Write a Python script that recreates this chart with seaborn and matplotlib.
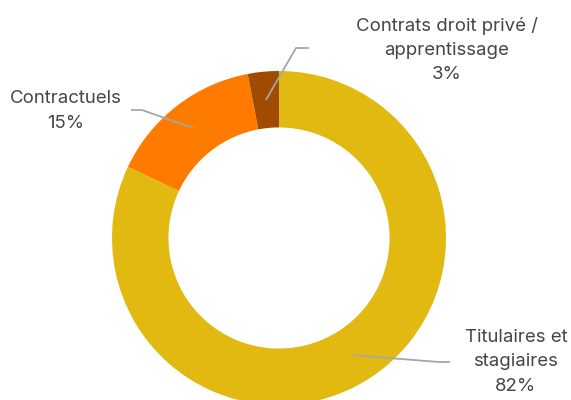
import numpy as np
import matplotlib
matplotlib.use("Agg")
import matplotlib.pyplot as plt
import seaborn as sns

# Répartition des effectifs par statut
categories = ["Titulaires et\nstagiaires", "Contractuels", "Contrats droit privé /\napprentissage"]
shares = [82, 15, 3]
colors = ["#E1B910", "#FF7B00", "#A04B00"]

sns.set_theme(style="white")
plt.rcParams["font.family"] = ["Inter", "DejaVu Sans"]
palette = sns.color_palette(colors)

W, H = 571, 400
fig = plt.figure(figsize=(W / 100, H / 100), dpi=100)
ax = fig.add_axes([0, 0, 1, 1])

# pixel geometry of the ring
cx, cy, R = 279, 238, 167
ring_width = 0.338


def px(x, y):
    """Figure pixel (from top-left) to data units."""
    return (x - cx) / R, (cy - y) / R


wedges, _ = ax.pie(shares, colors=palette, startangle=90, counterclock=False,
                   radius=1.0, wedgeprops=dict(width=ring_width, linewidth=0))
ax.set_aspect("auto")
ax.set_xlim(-cx / R, (W - cx) / R)
ax.set_ylim(-(H - cy) / R, cy / R)
ax.axis("off")

# label layout: elbow point, end of leader, text centre (pixels)
layout = [
    dict(elbow=(439, 362), end=(450, 362), text=(516, 362)),
    dict(elbow=(142, 110), end=(131, 110), text=(66, 111)),
    dict(elbow=(296, 48), end=(309, 48), text=(447, 50)),
]

mid_r = 1 - ring_width / 2
for w, lab, val, lay in zip(wedges, categories, shares, layout):
    ang = np.deg2rad((w.theta1 + w.theta2) / 2)
    ax0, ay0 = mid_r * np.cos(ang), mid_r * np.sin(ang)
    ex, ey = px(*lay["elbow"])
    nx, ny = px(*lay["end"])
    ax.plot([ax0, ex, nx], [ay0, ey, ny], color="#A6A6A6", lw=1.3,
            solid_capstyle="butt", zorder=3)
    tx, ty = px(*lay["text"])
    ax.text(tx, ty, f"{lab}\n{val}%", ha="center", va="center",
            fontsize=13.4, color="#464646", linespacing=1.55)

fig.savefig("out.png", dpi=100, facecolor="white")
